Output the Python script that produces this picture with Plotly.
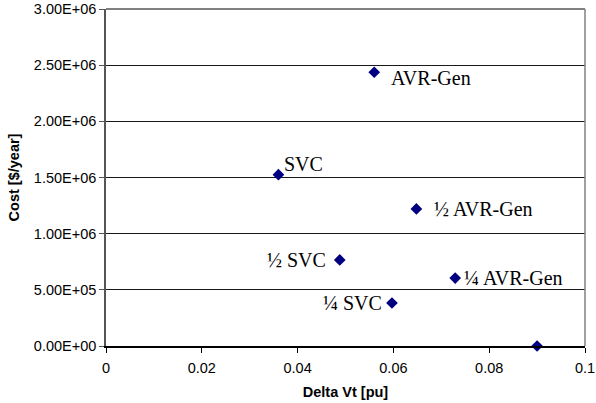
import plotly.graph_objects as go

delta_vt = [0.0560, 0.0360, 0.0648, 0.0488, 0.0729, 0.0597, 0.0900]
cost = [2.437e6, 1.525e6, 1.22e6, 0.766e6, 0.605e6, 0.383e6, 0.0]
labels = ["AVR-Gen", "SVC", "½ AVR-Gen", "½ SVC", "¼ AVR-Gen", "¼ SVC", ""]

x_ticks = [0, 0.02, 0.04, 0.06, 0.08, 0.1]
x_ticklabels = ["0", "0.02", "0.04", "0.06", "0.08", "0.1"]
y_ticks = [0, 5e5, 1e6, 1.5e6, 2e6, 2.5e6, 3e6]
y_ticklabels = ["0.00E+00", "5.00E+05", "1.00E+06", "1.50E+06", "2.00E+06", "2.50E+06", "3.00E+06"]

# label placement (style): anchor, x shift, y shift in px
label_style = [
    ("left", 15, -6),
    ("left", 4, 11),
    ("left", 16, 0),
    ("right", -12, 0),
    ("left", 7, 0),
    ("right", -8, 0),
    ("left", 0, 0),
]

fig = go.Figure()
fig.add_trace(go.Scatter(
    x=delta_vt, y=cost, mode="markers",
    marker=dict(symbol="diamond", size=9, color="#000080"),
    showlegend=False, hoverinfo="skip", cliponaxis=False,
))

for xv, yv, lab, (anc, xs, ys) in zip(delta_vt, cost, labels, label_style):
    if not lab:
        continue
    fig.add_annotation(
        x=xv, y=yv, text=lab, showarrow=False, xanchor=anc, yanchor="middle",
        xshift=xs, yshift=ys,
        font=dict(family="Liberation Serif, Times New Roman, serif", size=20, color="black"),
    )

# gray frame on top and right
fig.add_shape(type="line", xref="paper", yref="paper", x0=0, x1=1, y0=1, y1=1,
              line=dict(color="#808080", width=2))
fig.add_shape(type="line", xref="paper", yref="paper", x0=1, x1=1, y0=0, y1=1,
              line=dict(color="#808080", width=1.5))

fig.update_layout(
    width=596, height=403,
    margin=dict(l=106, r=11, t=9, b=57, autoexpand=False),
    paper_bgcolor="white", plot_bgcolor="white",
    font=dict(family="Liberation Sans, Arial, sans-serif", size=14.5, color="black"),
    xaxis=dict(
        range=[0, 0.1], tickvals=x_ticks, ticktext=x_ticklabels,
        showgrid=False, zeroline=False, automargin=False, ticklabeloverflow="allow",
        ticklabelstandoff=3,
        showline=True, linecolor="black", linewidth=1.5,
        ticks="outside", ticklen=5, tickcolor="black", tickwidth=1,
        title=dict(text="<b>Delta Vt [pu]</b>", font=dict(size=14.5), standoff=12),
    ),
    yaxis=dict(
        range=[0, 3e6], tickvals=y_ticks, ticktext=y_ticklabels,
        showgrid=True, gridcolor="#1a1a1a", gridwidth=1, zeroline=False, automargin=False,
        ticklabeloverflow="allow",
        showline=True, linecolor="#555555", linewidth=1.5,
        ticks="outside", ticklen=5, tickcolor="#555555", tickwidth=1,
        title=dict(text="<b>Cost [$/year]</b>", font=dict(size=14.5), standoff=11),
    ),
)

fig.write_html("out.html", config={"displayModeBar": False},
               post_script="document.body.style.margin='0';")
